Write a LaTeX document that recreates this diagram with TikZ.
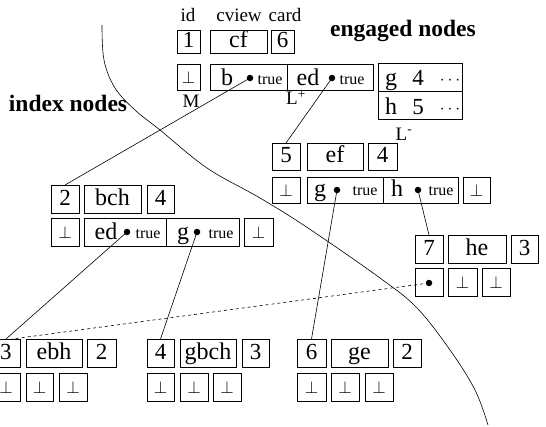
\documentclass[tikz,border=0pt]{standalone}
\usepackage{fontspec}
\setmainfont{Liberation Serif}
\usetikzlibrary{calc}
\newcommand\bbox[7][bigt]{\node[bx,#1,minimum width={#5pt-#3pt},minimum height={#6pt-#4pt}] (#2) at (#3,#4) {#7};}
\newcommand\perpc{$\perp$}
\begin{document}
\begin{tikzpicture}[x=1pt,y=-1pt,
  bx/.style={draw, line width=0.7pt, inner sep=0pt, outer sep=0pt, anchor=north west},
  bigt/.style={font=\fontsize{24}{24}\selectfont, text height=16pt, text depth=4pt},
  numt/.style={font=\fontsize{23}{23}\selectfont, text height=16pt, text depth=4pt},
  inb/.style={font=\fontsize{24}{24}\selectfont, anchor=base, inner sep=0pt},
  inn/.style={font=\fontsize{23}{23}\selectfont, anchor=base, inner sep=0pt},
  pt/.style={font=\fontsize{16.5}{16.5}\selectfont},
  dts/.style={font=\fontsize{18}{18}\selectfont, inner sep=0pt},
  trut/.style={font=\fontsize{16}{16}\selectfont, anchor=base, inner sep=0pt},
  lbl/.style={font=\fontsize{19}{19}\selectfont},
  hd/.style={font=\fontsize{23.5}{23.5}\selectfont\bfseries},
  dot/.style={circle, fill, inner sep=0pt, minimum size=6.5pt},
  conn/.style={line width=0.6pt},
  sep/.style={line width=0.7pt},
]
\useasboundingbox (0,0) rectangle (546,426);

% headings
\node[lbl] (hid) at (188,15) {id};
\node[lbl] (hcv) at (239,15) {cview};
\node[lbl] (hcd) at (285,15) {card};
\node[hd] (heng) at (403,31) {engaged nodes};
\node[hd] (hidx) at (68,103) {index nodes};

% group 1
\bbox[numt]{n1}{177}{30}{200}{53}{1}
\bbox{ncf}{210}{30}{267}{53}{cf}
\bbox[numt]{n6}{271}{30}{294}{53}{6}
\bbox[pt]{np1}{177}{64}{200}{90}{\perpc}
\bbox{nbed}{210}{64}{373}{90}{}
\draw[sep] (287,64) -- (287,90);
\node[inb] (tb) at (227,85) {b};
\node[dot] (db) at (250,78) {};
\node[trut] (tt1) at (270,84) {true};
\node[inb] (ted) at (308,85) {ed};
\node[dot] (ded) at (332,78) {};
\node[trut] (tt2) at (352,84) {true};
\bbox{ngh}{378}{63}{462}{119}{}
\draw[sep] (378,91) -- (462,91);
\node[inb] (tg) at (391,85) {g};
\node[inn] (t4) at (418,85) {4};
\node[dts] (tc1) at (450,81) {$\cdots$};
\node[inb] (th) at (391,114) {h};
\node[inn] (t5) at (418,114) {5};
\node[dts] (tc2) at (450,110) {$\cdots$};
\node[lbl] (lM) at (191,101) {M};
\node[lbl] (lLp) at (296,98) {L\textsuperscript{+}};
\node[lbl] (lLm) at (404,134) {L\textsuperscript{-}};

% group 5
\bbox[numt]{n5}{272}{143}{300}{170}{5}
\bbox{nef}{307}{143}{363}{170}{ef}
\bbox[numt]{n4b}{368}{143}{397}{170}{4}
\bbox[pt]{np5}{272}{177}{300}{203}{\perpc}
\bbox{ngh5}{307}{177}{458}{203}{}
\draw[sep] (383,177) -- (383,203);
\node[inb] (tg5) at (320,196) {g};
\node[dot] (dg5) at (337,190) {};
\node[trut] (tt3) at (365,195) {true};
\node[inb] (th5) at (397,196) {h};
\node[dot] (dh5) at (418,190) {};
\node[trut] (tt4) at (441,195) {true};
\bbox[pt]{np5r}{463}{177}{490}{203}{\perpc}

% group 2
\bbox[numt]{n2}{51}{185}{79}{213}{2}
\bbox{nbch}{84}{185}{141}{213}{bch}
\bbox[numt]{n4c}{147}{185}{174}{213}{4}
\bbox[pt]{np2}{51}{218}{79}{246}{\perpc}
\bbox{neg2}{84}{218}{239}{246}{}
\draw[sep] (166,218) -- (166,246);
\node[inb] (ted2) at (106,239) {ed};
\node[dot] (ded2) at (127,232) {};
\node[trut] (tt5) at (148,238) {true};
\node[inb] (tg2) at (183,239) {g};
\node[dot] (dg2) at (197,232) {};
\node[trut] (tt6) at (221,238) {true};
\bbox[pt]{np2r}{244}{218}{273}{246}{\perpc}

% group 7
\bbox[numt]{n7}{415}{235}{443}{263}{7}
\bbox{nhe}{448}{235}{506}{263}{he}
\bbox[numt]{n3c}{511}{235}{538}{263}{3}
\bbox{nd7}{415}{268}{443}{296}{}
\node[dot] (d7) at (429,283) {};
\bbox[pt]{np7a}{448}{268}{477}{296}{\perpc}
\bbox[pt]{np7b}{482}{268}{510}{296}{\perpc}

% group 3
\bbox[numt]{n3}{-8}{339}{20}{367}{3}
\bbox{nebh}{26}{339}{82}{367}{ebh}
\bbox[numt]{n2b}{87}{339}{116}{367}{2}
\bbox[pt]{np3a}{-8}{373}{20}{401}{\perpc}
\bbox[pt]{np3b}{26}{373}{53}{401}{\perpc}
\bbox[pt]{np3c}{59}{373}{87}{401}{\perpc}

% group 4
\bbox[numt]{n4}{147}{339}{174}{367}{4}
\bbox{ngbch}{180}{339}{236}{367}{gbch}
\bbox[numt]{n3d}{242}{339}{269}{367}{3}
\bbox[pt]{np4a}{147}{373}{174}{401}{\perpc}
\bbox[pt]{np4b}{180}{373}{208}{401}{\perpc}
\bbox[pt]{np4c}{213}{373}{241}{401}{\perpc}

% group 6
\bbox[numt]{n6b}{297}{339}{326}{367}{6}
\bbox{nge}{331}{339}{388}{367}{ge}
\bbox[numt]{n2c}{393}{339}{421}{367}{2}
\bbox[pt]{np6a}{297}{373}{326}{401}{\perpc}
\bbox[pt]{np6b}{331}{373}{359}{401}{\perpc}
\bbox[pt]{np6c}{365}{373}{393}{401}{\perpc}

% connectors
\draw[conn] (db.center) -- (n2.north);
\draw[conn] (ded.center) -- (n5.north);
\draw[conn] (ded2.center) -- (n3.north);
\draw[conn] (dg2.center) -- (n4.north);
\draw[conn] (dg5.center) -- (n6b.north);
\draw[conn] (dh5.center) -- (n7.north);
\draw[conn, dashed] (d7.center) -- ([xshift=6pt]n3.north);

% boundary curve
\draw[conn] plot[smooth, tension=0.6] coordinates {(102,25) (104,60) (115,88) (135,110) (160,130) (207,168) (260,198) (308,228) (380,278) (417,308) (450,350) (475,390) (488,425)};
\end{tikzpicture}
\end{document}
